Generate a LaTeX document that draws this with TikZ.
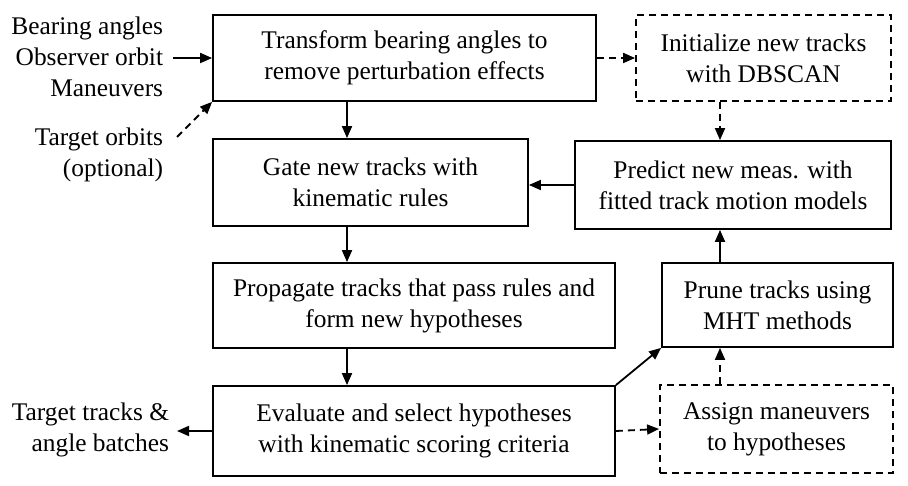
\documentclass[tikz,border=0pt]{standalone}
\usepackage{fontspec}
\setmainfont{Liberation Serif}
\usetikzlibrary{arrows.meta}
\begin{document}
\begin{tikzpicture}[x=1pt, y=-1pt, >={Triangle[length=12pt,width=10pt]}, line width=1.8pt,
	font=\fontsize{25.4}{31}\selectfont,
	proc/.style={draw, align=center, inner sep=0pt},
	optproc/.style={proc, dashed, dash pattern=on 7pt off 5pt},
	opt/.style={dashed, dash pattern=on 7pt off 5pt}]
	\useasboundingbox (0,0) rectangle (908,486);
	% boxes
	\node [proc, minimum width=383pt, minimum height=86pt] (transform) at (404.5,58) {Transform bearing angles to\\remove perturbation effects};
	\node [optproc, minimum width=255pt, minimum height=86pt] (init) at (763.5,58) {Initialize new tracks\\with DBSCAN};
	\node [proc, minimum width=315pt, minimum height=87pt] (gate) at (370.5,182.5) {Gate new tracks with\\kinematic rules};
	\node [proc, minimum width=316pt, minimum height=88pt] (predict) at (733,185) {Predict new meas. with\\fitted track motion models};
	\node [proc, minimum width=402pt, minimum height=85pt] (propagate) at (414,305.5) {Propagate tracks that pass rules and\\form new hypotheses};
	\node [proc, minimum width=231pt, minimum height=84pt] (prune) at (777.5,305) {Prune tracks using\\MHT methods};
	\node [proc, minimum width=402pt, minimum height=90pt] (evaluate) at (414,431) {Evaluate and select hypotheses\\with kinematic scoring criteria};
	\node [optproc, minimum width=233pt, minimum height=88pt] (assign) at (776.5,429) {Assign maneuvers\\to hypotheses};
	% inputs and output
	\node [align=right, anchor=east, inner sep=0pt] (inputs) at (164,57) {Bearing angles\\Observer orbit\\Maneuvers};
	\node [align=right, anchor=east, inner sep=0pt] (tgt) at (164,155) {Target orbits\\(optional)};
	\node [align=right, anchor=east, inner sep=0pt] (out) at (170,430) {Target tracks \&\\angle batches};
	\coordinate (tgtout) at (177,137);
	\coordinate (lx) at (347,0);
	\coordinate (rx) at (720,0);
	% connectors
	\draw [->] ([xshift=9pt]inputs.east |- transform.west) -- (transform.west);
	\draw [->, opt] (tgtout) -- (transform.south west);
	\draw [->, opt] (transform.east) -- (init.west);
	\draw [->] (transform.south -| lx) -- (gate.north -| lx);
	\draw [->] (gate.south -| lx) -- (propagate.north -| lx);
	\draw [->] (propagate.south -| lx) -- (evaluate.north -| lx);
	\draw [->] (predict.west) -- (predict.west -| gate.east);
	\draw [->, opt] (init.south -| rx) -- (predict.north -| rx);
	\draw [->] (prune.north -| rx) -- (predict.south -| rx);
	\draw [->, opt] (assign.north -| rx) -- (prune.south -| rx);
	\draw [->] (evaluate.north east) -- (prune.south west);
	\draw [->, opt] (evaluate.east) -- (assign.west);
	\draw [->] (evaluate.west) -- ([xshift=7pt]out.east |- evaluate.west);
\end{tikzpicture}
\end{document}
